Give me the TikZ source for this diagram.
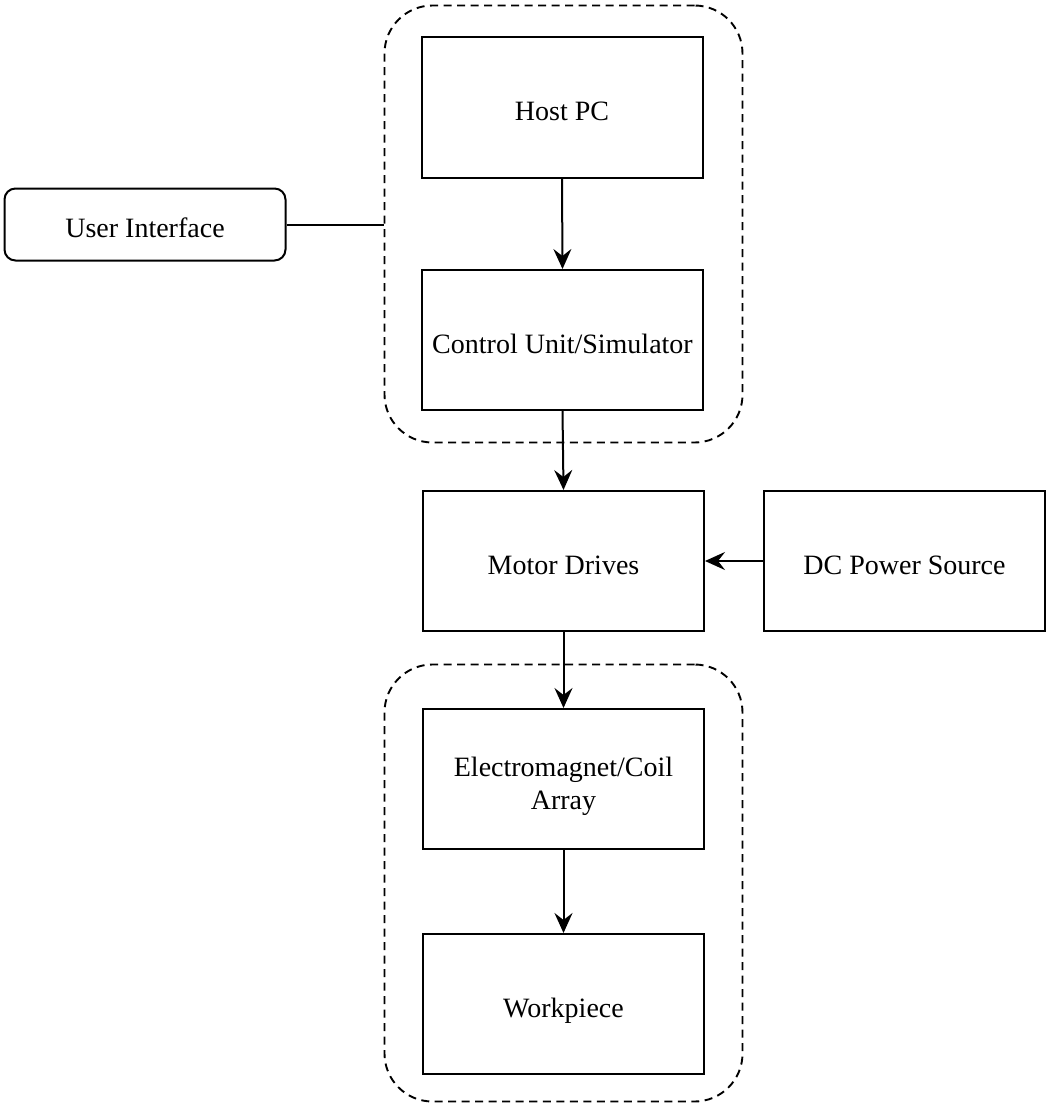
\documentclass[tikz,border=0pt]{standalone}
\usepackage{fontspec}
\setmainfont{Liberation Serif}
\usetikzlibrary{arrows.meta}
\begin{document}
\begin{tikzpicture}[x=1pt,y=-1pt,
  box/.style={draw, line width=2pt, minimum width=281pt, minimum height=140pt, inner sep=0pt, align=center, text height=32pt, text depth=6pt, font=\fontsize{28}{33}\selectfont},
  uibox/.style={draw, line width=2pt, rounded corners=11pt, minimum width=281pt, minimum height=72pt, inner sep=0pt, text height=32pt, text depth=6pt, font=\fontsize{28}{33}\selectfont},
  grp/.style={draw, line width=1.9pt, dash pattern=on 8pt off 5.5pt, rounded corners=48pt, inner sep=0pt},
  conn/.style={line width=2pt},
  arr/.style={line width=2pt, -{Stealth[length=20pt, width=18pt, inset=7pt]}}
]
\useasboundingbox (0,0) rectangle (1049,1105);
\node[grp, minimum width=358pt, minimum height=437pt] (g1) at (563.5,224) {};
\node[grp, minimum width=358pt, minimum height=437pt] (g2) at (563.5,883) {};
\node[box] (host) at (562,107.5) {Host PC};
\node[box] (ctrl) at (562.5,340) {Control Unit/Simulator};
\node[uibox] (ui) at (145,224.5) {User Interface};
\node[box] (motor) at (563.5,561) {Motor Drives};
\node[box] (dc) at (904.5,561) {DC Power Source};
\node[box, text height=66pt] (em) at (563.5,779) {Electromagnet/Coil\\Array};
\node[box] (wp) at (563.5,1004) {Workpiece};
\draw[conn] (ui.east) -- (g1.west |- ui.east);
\draw[arr] (host.south) -- (ctrl.north);
\draw[arr] (ctrl.south) -- (motor.north);
\draw[arr] (dc.west) -- (motor.east);
\draw[arr] (motor.south) -- (em.north);
\draw[arr] (em.south) -- (wp.north);
\end{tikzpicture}
\end{document}
